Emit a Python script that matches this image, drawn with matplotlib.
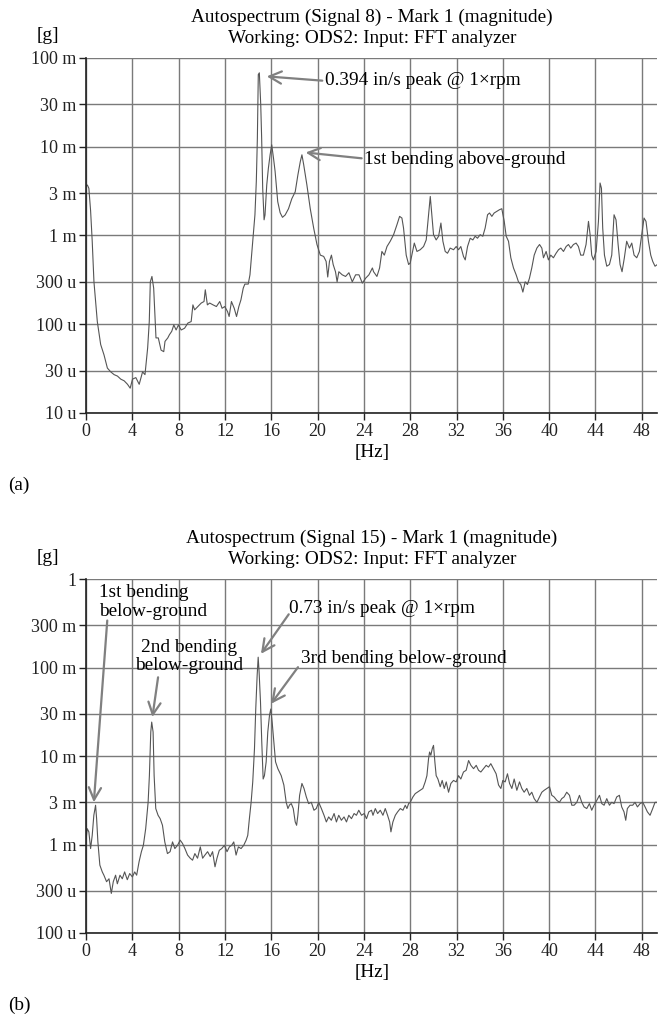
import matplotlib
matplotlib.use('Agg')
import matplotlib.pyplot as plt

plt.rcParams['font.family'] = ['Liberation Serif', 'DejaVu Serif']

# (a) Signal 8 autospectrum [Hz], [g]
freq_a = [0.0, 0.1, 0.23, 0.38, 0.52, 0.67, 0.96, 1.25, 1.54, 1.83, 2.12, 2.41, 2.70, 2.99,
          3.28, 3.57, 3.80, 4.00, 4.29, 4.58, 4.87, 5.08, 5.31, 5.45, 5.54, 5.68, 5.83, 5.94,
          6.03, 6.23, 6.47, 6.70, 6.81, 7.05, 7.19, 7.39, 7.57, 7.77, 7.97, 8.21, 8.50, 8.79,
          9.07, 9.22, 9.37, 9.65, 9.94, 10.18, 10.29, 10.47, 10.67, 10.96, 11.25, 11.54, 11.74,
          11.97, 12.21, 12.35, 12.55, 12.79, 12.99, 13.19, 13.37, 13.57, 13.71, 14.00, 14.15,
          14.29, 14.44, 14.58, 14.70, 14.79, 14.87, 14.96, 15.08, 15.16, 15.25, 15.37, 15.45,
          15.60, 15.74, 15.89, 16.03, 16.18, 16.32, 16.55, 16.76, 16.96, 17.19, 17.48, 17.77,
          18.06, 18.29, 18.50, 18.64, 18.79, 19.07, 19.36, 19.66, 19.94, 20.23, 20.52, 20.73,
          20.87, 21.02, 21.19, 21.34, 21.54, 21.68, 21.83, 22.12, 22.41, 22.70, 22.99, 23.28,
          23.57, 23.86, 24.15, 24.43, 24.73, 24.83, 25.12, 25.35, 25.55, 25.76, 25.99, 26.27,
          26.56, 26.85, 27.08, 27.28, 27.42, 27.65, 27.86, 28.00, 28.14, 28.35, 28.58, 28.86,
          29.15, 29.38, 29.58, 29.73, 29.84, 30.01, 30.24, 30.45, 30.65, 30.82, 31.02, 31.22,
          31.45, 31.74, 31.97, 32.17, 32.37, 32.60, 32.75, 32.95, 33.18, 33.41, 33.61, 33.81,
          34.04, 34.27, 34.47, 34.68, 34.85, 35.05, 35.25, 35.48, 35.71, 35.91, 36.12, 36.29,
          36.49, 36.69, 36.92, 37.15, 37.35, 37.55, 37.73, 37.93, 38.13, 38.30, 38.50, 38.71,
          38.94, 39.17, 39.37, 39.51, 39.74, 39.94, 40.14, 40.37, 40.60, 40.81, 41.01, 41.24,
          41.47, 41.67, 41.87, 42.10, 42.33, 42.53, 42.73, 42.96, 43.19, 43.40, 43.54, 43.68,
          43.83, 44.06, 44.26, 44.40, 44.52, 44.63, 44.78, 44.98, 45.21, 45.41, 45.61, 45.78,
          45.96, 46.13, 46.30, 46.50, 46.70, 46.94, 47.14, 47.34, 47.57, 47.80, 48.00, 48.20,
          48.37, 48.58, 48.78, 48.95, 49.15, 49.35]
mag_a = [3.6e-3, 3.7e-3, 3.4e-3, 1.9e-3, 8.6e-4, 3.0e-4, 1.07e-4, 5.9e-5, 4.5e-5, 3.2e-5, 2.9e-5,
         2.7e-5, 2.6e-5, 2.4e-5, 2.3e-5, 2.1e-5, 1.9e-5, 2.4e-5, 2.5e-5, 2.1e-5, 2.9e-5, 2.7e-5,
         5.4e-5, 1.07e-4, 3.0e-4, 3.45e-4, 2.55e-4, 1.27e-4, 7.0e-5, 7.0e-5, 5.1e-5, 4.9e-5,
         6.4e-5, 7.0e-5, 7.6e-5, 8.3e-5, 9.8e-5, 8.6e-5, 9.8e-5, 8.6e-5, 9.0e-5, 1.03e-4,
         1.07e-4, 1.65e-4, 1.45e-4, 1.58e-4, 1.73e-4, 1.80e-4, 2.44e-4, 1.65e-4, 1.73e-4,
         1.65e-4, 1.58e-4, 1.80e-4, 1.51e-4, 1.58e-4, 1.39e-4, 1.22e-4, 1.80e-4, 1.51e-4,
         1.22e-4, 1.58e-4, 1.88e-4, 2.55e-4, 2.83e-4, 2.83e-4, 3.6e-4, 6.0e-4, 1.02e-3, 1.71e-3,
         4.1e-3, 1.25e-2, 6.5e-2, 6.8e-2, 3.0e-2, 1.25e-2, 3.4e-3, 1.5e-3, 1.7e-3, 3.7e-3,
         5.7e-3, 8.1e-3, 1.05e-2, 7.5e-3, 5.3e-3, 2.4e-3, 1.8e-3, 1.6e-3, 1.7e-3, 2.0e-3, 2.6e-3,
         3.1e-3, 4.8e-3, 6.8e-3, 8.1e-3, 6.3e-3, 3.7e-3, 2.0e-3, 1.2e-3, 7.9e-4, 6.0e-4, 5.8e-4,
         5.1e-4, 3.4e-4, 5.1e-4, 6.0e-4, 4.7e-4, 3.9e-4, 3.0e-4, 3.9e-4, 3.6e-4, 3.45e-4, 3.8e-4,
         3.0e-4, 3.6e-4, 3.6e-4, 2.9e-4, 3.3e-4, 3.6e-4, 4.3e-4, 3.9e-4, 3.45e-4, 4.3e-4, 6.6e-4,
         6.0e-4, 7.5e-4, 8.6e-4, 1.02e-3, 1.32e-3, 1.64e-3, 1.57e-3, 1.21e-3, 6.0e-4, 4.7e-4,
         4.9e-4, 6.0e-4, 8.2e-4, 6.6e-4, 6.9e-4, 7.5e-4, 8.9e-4, 1.71e-3, 2.75e-3, 1.87e-3,
         1.02e-3, 8.9e-4, 9.8e-4, 1.38e-3, 8.6e-4, 6.6e-4, 6.3e-4, 7.2e-4, 6.9e-4, 7.5e-4,
         6.9e-4, 7.5e-4, 5.8e-4, 5.3e-4, 7.5e-4, 9.3e-4, 8.9e-4, 9.8e-4, 9.3e-4, 1.02e-3, 9.8e-4,
         1.21e-3, 1.71e-3, 1.79e-3, 1.64e-3, 1.79e-3, 1.87e-3, 1.95e-3, 2.0e-3, 1.44e-3, 9.8e-4,
         8.6e-4, 5.6e-4, 4.3e-4, 3.6e-4, 3.0e-4, 2.8e-4, 2.3e-4, 3.0e-4, 2.8e-4, 3.3e-4, 4.3e-4,
         6.0e-4, 7.2e-4, 7.9e-4, 7.2e-4, 5.6e-4, 6.6e-4, 5.3e-4, 6.0e-4, 5.6e-4, 6.3e-4, 6.9e-4,
         7.2e-4, 6.6e-4, 7.5e-4, 7.9e-4, 7.2e-4, 7.9e-4, 8.2e-4, 7.5e-4, 6.0e-4, 6.0e-4, 7.9e-4,
         1.44e-3, 1.02e-3, 6.0e-4, 5.3e-4, 6.6e-4, 1.44e-3, 3.9e-3, 3.4e-3, 1.21e-3, 6.0e-4,
         4.5e-4, 4.7e-4, 6.0e-4, 1.71e-3, 1.50e-3, 7.9e-4, 4.7e-4, 3.9e-4, 5.6e-4, 8.6e-4, 7.2e-4,
         8.2e-4, 6.0e-4, 5.6e-4, 6.6e-4, 1.02e-3, 1.57e-3, 1.44e-3, 8.6e-4, 6.0e-4, 5.1e-4,
         4.5e-4, 4.7e-4]

# (b) Signal 15 autospectrum
freq_b = [0.0, 0.09, 0.23, 0.38, 0.52, 0.66, 0.81, 0.90, 1.01, 1.18, 1.39, 1.53, 1.76, 1.97,
          2.17, 2.34, 2.54, 2.69, 2.92, 3.12, 3.32, 3.55, 3.76, 3.99, 4.19, 4.36, 4.57, 4.77,
          4.94, 5.14, 5.35, 5.46, 5.58, 5.66, 5.78, 5.87, 6.01, 6.21, 6.39, 6.59, 6.79, 7.02,
          7.25, 7.46, 7.66, 7.89, 8.12, 8.32, 8.53, 8.76, 8.99, 9.19, 9.39, 9.62, 9.86, 10.06,
          10.26, 10.49, 10.72, 10.92, 11.13, 11.30, 11.50, 11.71, 11.94, 12.17, 12.37, 12.57,
          12.75, 12.95, 13.15, 13.38, 13.61, 13.82, 13.96, 14.10, 14.25, 14.39, 14.54, 14.65,
          14.77, 14.86, 14.94, 15.06, 15.17, 15.29, 15.40, 15.55, 15.69, 15.84, 15.95, 16.07,
          16.21, 16.36, 16.56, 16.85, 17.08, 17.28, 17.43, 17.57, 17.72, 17.89, 18.06, 18.18,
          18.29, 18.44, 18.64, 18.82, 19.02, 19.22, 19.45, 19.68, 19.88, 20.09, 20.32, 20.55,
          20.75, 20.95, 21.18, 21.42, 21.62, 21.82, 22.05, 22.28, 22.49, 22.69, 22.92, 23.15,
          23.35, 23.55, 23.79, 24.02, 24.22, 24.42, 24.65, 24.78, 24.98, 25.18, 25.41, 25.64,
          25.84, 26.04, 26.22, 26.33, 26.50, 26.71, 26.91, 27.14, 27.37, 27.57, 27.71, 27.86,
          28.00, 28.23, 28.43, 28.63, 28.86, 29.09, 29.29, 29.44, 29.58, 29.67, 29.78, 29.90,
          30.01, 30.13, 30.24, 30.39, 30.59, 30.76, 30.94, 31.11, 31.31, 31.51, 31.74, 31.97,
          32.17, 32.37, 32.60, 32.83, 33.04, 33.24, 33.47, 33.70, 33.90, 34.10, 34.33, 34.56,
          34.76, 34.96, 35.19, 35.42, 35.63, 35.83, 36.00, 36.20, 36.40, 36.58, 36.78, 36.98,
          37.21, 37.44, 37.64, 37.84, 38.07, 38.30, 38.50, 38.71, 38.94, 39.17, 39.37, 39.57,
          39.80, 40.03, 40.23, 40.43, 40.66, 40.89, 41.09, 41.29, 41.52, 41.76, 41.96, 42.16,
          42.39, 42.62, 42.82, 43.02, 43.25, 43.48, 43.68, 43.88, 44.12, 44.35, 44.55, 44.75,
          44.98, 45.21, 45.41, 45.61, 45.84, 46.07, 46.27, 46.47, 46.62, 46.76, 46.99, 47.22,
          47.42, 47.63, 47.86, 48.09, 48.29, 48.49, 48.72, 48.95, 49.15, 49.35]
mag_b = [1.17e-3, 1.51e-3, 1.39e-3, 9.0e-4, 1.27e-3, 2.14e-3, 2.78e-3, 1.96e-3, 1.07e-3, 5.85e-4,
         4.9e-4, 4.5e-4, 3.8e-4, 4.1e-4, 2.8e-4, 3.8e-4, 4.5e-4, 3.6e-4, 4.5e-4, 4.1e-4, 4.9e-4,
         4.0e-4, 4.7e-4, 4.3e-4, 4.9e-4, 4.5e-4, 6.4e-4, 8.3e-4, 9.8e-4, 1.51e-3, 3.0e-3, 6.0e-3,
         1.87e-2, 2.42e-2, 1.87e-2, 6.0e-3, 2.55e-3, 2.14e-3, 1.96e-3, 1.65e-3, 1.07e-3, 7.9e-4,
         8.3e-4, 1.07e-3, 9.0e-4, 9.8e-4, 1.12e-3, 1.03e-3, 9.0e-4, 7.6e-4, 7.0e-4, 6.65e-4,
         7.9e-4, 7.0e-4, 9.4e-4, 7.0e-4, 7.6e-4, 8.3e-4, 7.3e-4, 8.3e-4, 5.6e-4, 7.0e-4, 8.6e-4,
         9.0e-4, 9.8e-4, 8.3e-4, 9.4e-4, 9.8e-4, 1.07e-3, 7.6e-4, 9.4e-4, 9.0e-4, 9.8e-4,
         1.12e-3, 1.27e-3, 1.96e-3, 3.0e-3, 5.1e-3, 1.21e-2, 3.4e-2, 8.1e-2, 1.31e-1, 8.9e-2,
         4.1e-2, 1.44e-2, 5.5e-3, 6.0e-3, 8.6e-3, 1.87e-2, 2.9e-2, 3.4e-2, 2.4e-2, 1.44e-2,
         8.6e-3, 7.2e-3, 6.0e-3, 4.7e-3, 3.0e-3, 2.55e-3, 2.8e-3, 2.9e-3, 2.55e-3, 1.8e-3,
         1.65e-3, 2.14e-3, 3.6e-3, 4.9e-3, 4.3e-3, 3.45e-3, 2.9e-3, 3.0e-3, 2.44e-3, 2.55e-3,
         3.0e-3, 2.55e-3, 2.14e-3, 1.8e-3, 2.05e-3, 1.88e-3, 2.24e-3, 1.8e-3, 2.14e-3, 1.88e-3,
         2.05e-3, 1.8e-3, 2.14e-3, 1.96e-3, 2.24e-3, 2.14e-3, 2.44e-3, 2.14e-3, 2.24e-3, 1.96e-3,
         2.34e-3, 2.44e-3, 2.14e-3, 2.55e-3, 2.24e-3, 2.44e-3, 2.14e-3, 2.55e-3, 2.14e-3, 1.8e-3,
         1.39e-3, 1.8e-3, 2.14e-3, 2.34e-3, 2.55e-3, 2.44e-3, 2.78e-3, 2.55e-3, 2.9e-3, 3.0e-3,
         3.45e-3, 3.76e-3, 3.92e-3, 4.1e-3, 4.3e-3, 5.1e-3, 6.0e-3, 9.3e-3, 1.11e-2, 1.02e-2,
         1.21e-2, 1.32e-2, 8.5e-3, 6.0e-3, 5.5e-3, 4.5e-3, 5.3e-3, 4.3e-3, 5.1e-3, 3.9e-3, 4.9e-3,
         5.3e-3, 5.1e-3, 6.0e-3, 5.5e-3, 6.6e-3, 6.9e-3, 8.9e-3, 7.85e-3, 7.2e-3, 7.85e-3, 6.9e-3,
         6.6e-3, 7.2e-3, 7.85e-3, 7.5e-3, 8.2e-3, 7.2e-3, 6.3e-3, 4.7e-3, 4.3e-3, 5.3e-3, 5.1e-3,
         6.3e-3, 4.9e-3, 4.3e-3, 5.5e-3, 4.1e-3, 5.1e-3, 4.3e-3, 3.9e-3, 4.3e-3, 3.6e-3, 3.9e-3,
         3.3e-3, 3.0e-3, 3.45e-3, 3.9e-3, 4.1e-3, 4.3e-3, 4.5e-3, 3.6e-3, 3.45e-3, 3.16e-3,
         3.0e-3, 3.3e-3, 3.45e-3, 3.9e-3, 3.6e-3, 2.78e-3, 2.78e-3, 3.0e-3, 3.6e-3, 3.0e-3,
         2.66e-3, 2.55e-3, 2.9e-3, 2.44e-3, 2.78e-3, 3.16e-3, 3.6e-3, 2.9e-3, 2.78e-3, 3.3e-3,
         2.78e-3, 3.0e-3, 2.9e-3, 3.45e-3, 3.6e-3, 2.66e-3, 2.34e-3, 1.88e-3, 2.55e-3, 2.78e-3,
         2.78e-3, 3.0e-3, 2.66e-3, 2.9e-3, 3.0e-3, 2.66e-3, 2.34e-3, 2.14e-3, 2.55e-3, 3.0e-3,
         3.0e-3]

x_ticks = [0, 4, 8, 12, 16, 20, 24, 28, 32, 36, 40, 44, 48]
yticks_a = [1e-5, 3e-5, 1e-4, 3e-4, 1e-3, 3e-3, 1e-2, 3e-2, 1e-1]
ylabels_a = ['10 u', '30 u', '100 u', '300 u', '1 m', '3 m', '10 m', '30 m', '100 m']
yticks_b = [1e-4, 3e-4, 1e-3, 3e-3, 1e-2, 3e-2, 1e-1, 3e-1, 1]
ylabels_b = ['100 u', '300 u', '1 m', '3 m', '10 m', '30 m', '100 m', '300 m', '1']

titles = ['Autospectrum (Signal 8) - Mark 1 (magnitude)\nWorking: ODS2: Input: FFT analyzer',
          'Autospectrum (Signal 15) - Mark 1 (magnitude)\nWorking: ODS2: Input: FFT analyzer']

FS = 13      # tick labels
FT = 13.9    # titles / annotations
grid_c = '#7a7a7a'
arrow_c = '#808080'

fig = plt.figure(figsize=(6.58, 10.17), dpi=100)
ax1 = fig.add_axes([0.131, 0.594, 0.868, 0.349])
ax2 = fig.add_axes([0.131, 0.0826, 0.868, 0.348])


def style(ax, yt, yl, title):
    ax.set_yscale('log')
    ax.set_xlim(0, 49.35)
    ax.set_ylim(yt[0], yt[-1])
    ax.set_xticks(x_ticks)
    ax.set_xticklabels([str(t) for t in x_ticks], fontsize=FS)
    ax.set_yticks(yt)
    ax.set_yticklabels(yl, fontsize=FS)
    ax.minorticks_off()
    ax.grid(True, color=grid_c, lw=1.0)
    ax.set_axisbelow(True)
    for s in ['top', 'right']:
        ax.spines[s].set_visible(False)
    for s in ['left', 'bottom']:
        ax.spines[s].set_color('#222222')
        ax.spines[s].set_linewidth(1.2)
    ax.tick_params(direction='out', length=5, width=1, colors='#222222', pad=2)
    ax.set_title(title, fontsize=FT, pad=11, linespacing=1.3, x=0.5)
    ax.set_xlabel('[Hz]', fontsize=FT, labelpad=3)


style(ax1, yticks_a, ylabels_a, titles[0])
style(ax2, yticks_b, ylabels_b, titles[1])

ax1.plot(freq_a, mag_a, color='#555555', lw=0.8)
ax2.plot(freq_b, mag_b, color='#555555', lw=0.8)

ap = dict(arrowstyle='->', color=arrow_c, lw=1.6, mutation_scale=22, shrinkA=0, shrinkB=0)

# annotations (a)
ax1.annotate('', xy=(15.6, 0.062), xytext=(20.4, 0.0555), arrowprops=ap)
ax1.text(20.6, 0.056, '0.394 in/s peak @ 1\u00d7rpm', fontsize=FT, va='center', ha='left')
ax1.annotate('', xy=(18.96, 8.6e-3), xytext=(23.8, 7.4e-3), arrowprops=ap)
ax1.text(24.0, 7.2e-3, '1st bending above-ground', fontsize=FT, va='center', ha='left')

# annotations (b)
ax2.text(1.1, 0.55, '1st bending\nbelow-ground', fontsize=FT, va='center', ha='left',
         linespacing=1.1)
ax2.annotate('', xy=(0.66, 3.0e-3), xytext=(1.82, 0.34), arrowprops=ap)
ax2.text(8.9, 0.133, '2nd bending\nbelow-ground', fontsize=FT, va='center', ha='center',
         linespacing=1.1)
ax2.annotate('', xy=(5.72, 0.0276), xytext=(6.21, 0.0776), arrowprops=ap)
ax2.text(17.5, 0.46, '0.73 in/s peak @ 1\u00d7rpm', fontsize=FT, va='center', ha='left')
ax2.annotate('', xy=(15.1, 0.143), xytext=(17.5, 0.40), arrowprops=ap)
ax2.text(18.6, 0.125, '3rd bending below-ground', fontsize=FT, va='center', ha='left')
ax2.annotate('', xy=(15.98, 0.039), xytext=(18.3, 0.101), arrowprops=ap)

# unit labels and panel letters
fig.text(48 / 658, 1 - 35 / 1017, '[g]', fontsize=FT, ha='center', va='center')
fig.text(48 / 658, 1 - 557 / 1017, '[g]', fontsize=FT, ha='center', va='center')
fig.text(8 / 658, 1 - 485 / 1017, '(a)', fontsize=FT, ha='left', va='center')
fig.text(8 / 658, 1 - 1005 / 1017, '(b)', fontsize=FT, ha='left', va='center')

fig.savefig('out.png', dpi=100, facecolor='white')
